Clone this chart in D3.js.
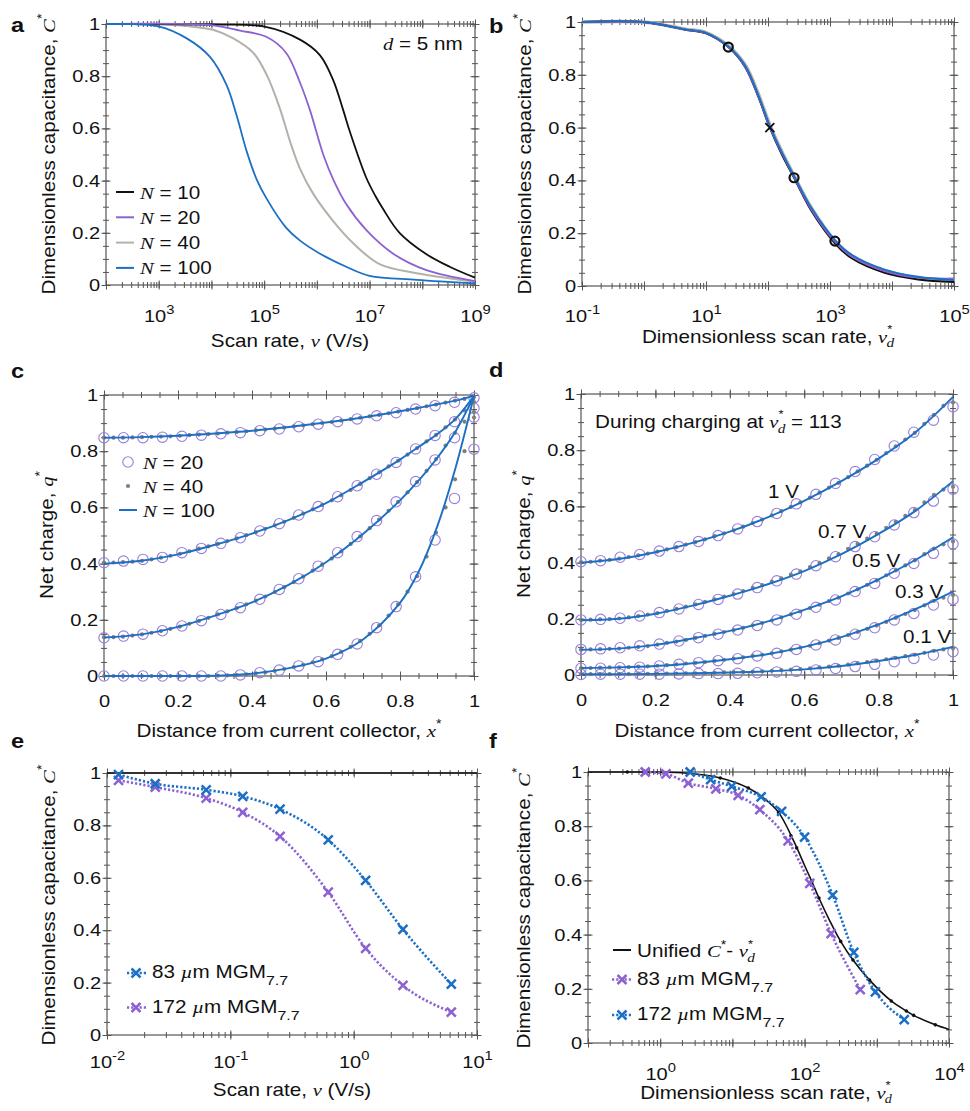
<!DOCTYPE html>
<html>
<head>
<meta charset="utf-8">
<script src="https://cdn.jsdelivr.net/npm/d3@7"></script>
<style>
    body { margin: 0; background: #fff; }
    svg { display: block; font-family: "Liberation Sans", Arial, sans-serif; }
    .tk line { stroke: #555; stroke-width: 1; }
    .lab text { font-size: 17px; fill: #111; font-family: "Liberation Sans", Arial, sans-serif; }
</style>
</head>
<body>
<svg id="fig" width="970" height="1111"></svg>
<script>
'use strict';

// ---------- panel a: capacitance vs scan rate, d = 5 nm ----------
const aRateN10 = [1e2, 1e4, 1.02e5, 4.8e5, 1.15e6, 2.04e6, 3.16e6, 4.27e6, 8.7e6, 1.3e7, 1.82e7, 3.7e7, 1.2e8, 3.3e8, 1e9];
const aCapN10 = [1, 0.998, 0.99, 0.94, 0.88, 0.785, 0.67, 0.585, 0.41, 0.34, 0.29, 0.20, 0.118, 0.07, 0.028];
const aRateN20 = [1e2, 1.07e4, 3.5e4, 1.12e5, 2.6e5, 4.8e5, 7.4e5, 1.32e6, 2.04e6, 3.6e6, 8.7e6, 2.8e7, 1.2e8, 1e9];
const aCapN20 = [1, 0.995, 0.975, 0.95, 0.89, 0.775, 0.67, 0.50, 0.405, 0.31, 0.21, 0.12, 0.057, 0.015];
const aRateN40 = [1e2, 1.02e3, 3.4e3, 1.07e4, 2.6e4, 6.2e4, 1.12e5, 2.0e5, 3.1e5, 4.8e5, 8.5e5, 2.04e6, 4.9e6, 1.55e7, 7.8e7, 1e9];
const aCapN40 = [1, 1, 0.992, 0.978, 0.945, 0.89, 0.805, 0.675, 0.55, 0.445, 0.35, 0.245, 0.16, 0.08, 0.045, 0.013];
const aRateN100 = [1e2, 1.02e3, 3.4e3, 9.3e3, 1.95e4, 3.0e4, 4.7e4, 7.2e4, 1.12e5, 2.6e5, 4.8e5, 1.15e6, 3.6e6, 1e7, 7.8e7, 1e9];
const aCapN100 = [1, 0.99, 0.945, 0.875, 0.765, 0.65, 0.51, 0.405, 0.33, 0.22, 0.17, 0.12, 0.07, 0.035, 0.02, 0.006];
const aLegend = ['10', '20', '40', '100'];
const aXLabels = [1e3, 1e5, 1e7, 1e9];

// ---------- panel b: unified curve vs dimensionless scan rate ----------
const bRate = [0.1, 1.05, 4.6, 9.8, 22.9, 42.7, 69, 107, 166, 263, 501, 1200, 2240, 7600, 26300, 1e5];
const bCapN10 = [1, 0.999, 0.971, 0.958, 0.905, 0.83, 0.72, 0.60, 0.50, 0.41, 0.285, 0.162, 0.105, 0.05, 0.025, 0.015];
const bCapN20 = [1, 0.999, 0.972, 0.959, 0.906, 0.832, 0.722, 0.603, 0.505, 0.413, 0.29, 0.168, 0.112, 0.057, 0.032, 0.028];
const bCapN40 = [1, 0.999, 0.973, 0.961, 0.91, 0.838, 0.73, 0.61, 0.51, 0.418, 0.296, 0.172, 0.115, 0.058, 0.03, 0.02];
const bCapN100 = [1, 0.999, 0.972, 0.96, 0.907, 0.835, 0.726, 0.606, 0.508, 0.417, 0.296, 0.174, 0.118, 0.062, 0.035, 0.022];
const bCircleRate = [22.9, 263, 1200];
const bCircleCap = [0.905, 0.41, 0.17];
const bCrossRate = [107];
const bCrossCap = [0.60];
const bXLabels = [1e-1, 1e1, 1e3, 1e5];

// ---------- panel c: net charge profiles for N = 20 / 40 / 100 ----------
const cNodes20 = d3.range(20).map(i => i / 19);
const cNodes40 = d3.range(40).map(i => i / 39);
const cLineX = [0, 0.1, 0.2, 0.3, 0.4, 0.5, 0.6, 0.7, 0.8, 0.85, 0.9, 0.95, 1];
const cLine1 = [0.848, 0.85, 0.855, 0.863, 0.873, 0.886, 0.902, 0.92, 0.942, 0.954, 0.967, 0.98, 0.997];
const cLine2 = [0.40, 0.41, 0.433, 0.467, 0.507, 0.556, 0.615, 0.69, 0.77, 0.815, 0.86, 0.915, 0.997];
const cLine3 = [0.137, 0.148, 0.175, 0.215, 0.262, 0.325, 0.405, 0.505, 0.625, 0.695, 0.775, 0.87, 0.997];
const cLine4 = [0, 0, 0, 0.001, 0.008, 0.028, 0.062, 0.13, 0.26, 0.37, 0.53, 0.74, 0.997];
const cN20q1 = [0.848, 0.848, 0.848, 0.85, 0.853, 0.857, 0.862, 0.866, 0.873, 0.879, 0.887, 0.896, 0.905, 0.915, 0.926, 0.937, 0.95, 0.962, 0.974, 0.99];
const cN20q2 = [0.403, 0.409, 0.415, 0.422, 0.439, 0.454, 0.472, 0.492, 0.516, 0.542, 0.573, 0.603, 0.638, 0.677, 0.718, 0.760, 0.808, 0.856, 0.905, 0.953];
const cN20q3 = [0.136, 0.142, 0.149, 0.161, 0.178, 0.197, 0.219, 0.243, 0.273, 0.308, 0.346, 0.391, 0.439, 0.496, 0.553, 0.620, 0.692, 0.769, 0.848, 0.921];
const cN20q4 = [0, 0, 0, 0, 0, 0, 0, 0.004, 0.012, 0.021, 0.036, 0.051, 0.077, 0.114, 0.172, 0.247, 0.353, 0.484, 0.632, 0.807];
const cN40q1 = [.848, .848, .848, .849, .850, .851, .852, .853, .855, .857, .859, .861, .863, .866, .868, .871, .874, .877, .880, .884,
                .888, .892, .896, .900, .904, .909, .914, .919, .924, .929, .935, .941, .947, .953, .960, .966, .973, .980, .986, .993];
const cN40q2 = [.404, .404, .405, .407, .410, .415, .421, .428, .435, .444, .453, .461, .470, .480, .490, .501, .512, .524, .536, .549,
                .563, .578, .593, .609, .625, .643, .662, .683, .704, .725, .746, .766, .788, .811, .835, .858, .885, .913, .945, .975];
const cN40q3 = [.138, .138, .140, .144, .148, .154, .160, .168, .176, .186, .196, .207, .219, .230, .242, .255, .268, .283, .299, .316,
                .334, .354, .375, .396, .418, .443, .470, .497, .526, .557, .588, .620, .654, .690, .730, .772, .820, .865, .905, .940];
const cN40q4 = [0, 0, 0, 0, 0, 0, 0, 0, 0, 0, 0, 0, .001, .002, .003, .006, .009, .013, .018, .025,
                .032, .040, .049, .059, .071, .086, .104, .125, .150, .180, .215, .255, .300, .355, .425, .510, .600, .700, .800, .920];
const cLegend = ['20', '40', '100'];

// ---------- panel d: profiles during charging at nu*_d = 113 ----------
const dLineX = [0, 0.1, 0.2, 0.3, 0.4, 0.5, 0.6, 0.7, 0.8, 0.9, 1];
const dLine1V = [0.40, 0.413, 0.437, 0.47, 0.51, 0.56, 0.62, 0.69, 0.77, 0.865, 0.99];
const dLine07V = [0.195, 0.200, 0.218, 0.247, 0.282, 0.322, 0.370, 0.43, 0.502, 0.585, 0.69];
const dLine05V = [0.09, 0.094, 0.107, 0.13, 0.157, 0.19, 0.232, 0.28, 0.34, 0.41, 0.49];
const dLine03V = [0.025, 0.027, 0.032, 0.042, 0.056, 0.074, 0.10, 0.135, 0.18, 0.235, 0.297];
const dLine01V = [0.003, 0.003, 0.004, 0.006, 0.009, 0.013, 0.02, 0.032, 0.05, 0.072, 0.10];
const dN20q1V = [.403, .407, .419, .429, .441, .457, .475, .496, .520, .546, .575, .609, .643, .682, .724, .767, .815, .864, .907, .955];
const dN20q07V = [.196, .198, .202, .210, .222, .235, .251, .269, .288, .311, .335, .359, .389, .421, .457, .492, .534, .578, .619, .661];
const dN20q05V = [.091, .093, .097, .104, .110, .121, .133, .145, .160, .176, .196, .216, .241, .267, .297, .326, .362, .397, .433, .466];
const dN20q03V = [.024, .024, .026, .028, .032, .038, .044, .051, .058, .068, .077, .091, .107, .125, .145, .168, .196, .219, .249, .269];
const dN20q01V = [.002, .003, .003, .003, .003, .004, .005, .005, .006, .008, .011, .013, .018, .023, .030, .038, .047, .059, .071, .083];
const dN40q1V = [.402, .403, .407, .410, .414, .420, .426, .432, .439, .447, .455, .464, .473, .483, .494, .504, .515, .528, .541, .553,
                 .568, .583, .598, .614, .631, .649, .667, .684, .704, .725, .745, .766, .790, .814, .838, .862, .894, .926, .958, .970];
const dN40q07V = [.196, .197, .198, .199, .201, .205, .210, .215, .220, .228, .235, .243, .251, .260, .269, .279, .288, .299, .310, .320,
                  .332, .344, .357, .369, .384, .399, .415, .430, .449, .467, .485, .503, .524, .545, .566, .587, .614, .641, .660, .670];
const dN40q05V = [.090, .091, .092, .093, .094, .097, .100, .103, .108, .114, .119, .125, .132, .139, .146, .153, .160, .168, .177, .185,
                  .194, .205, .216, .226, .238, .250, .263, .275, .290, .305, .321, .336, .355, .372, .390, .408, .430, .450, .465, .475];
const dN40q03V = [.025, .025, .026, .027, .027, .028, .030, .031, .033, .035, .038, .041, .043, .046, .050, .054, .058, .063, .068, .072,
                  .077, .084, .090, .097, .104, .113, .122, .132, .142, .153, .164, .176, .189, .203, .217, .231, .248, .264, .275, .285];
const dN40q01V = [.003, .003, .003, .003, .003, .003, .004, .004, .004, .005, .005, .006, .006, .007, .008, .009, .010, .011, .012, .013,
                  .015, .017, .019, .021, .024, .027, .030, .033, .037, .042, .046, .051, .056, .061, .067, .072, .079, .086, .091, .095];
const dVoltLabels = ['1 V', '0.7 V', '0.5 V', '0.3 V', '0.1 V'];

// ---------- panel e: measured capacitance vs scan rate ----------
const eRate = [0.0124, 0.0246, 0.0637, 0.126, 0.253, 0.622, 1.25, 2.51, 6.19];
const eCap83 = [0.994, 0.959, 0.936, 0.911, 0.862, 0.745, 0.590, 0.403, 0.194];
const eCap172 = [0.972, 0.946, 0.904, 0.850, 0.758, 0.545, 0.331, 0.189, 0.087];
const eRefLevel = [1];
const eXLabels = [1e-2, 1e-1, 1e0, 1e1];

// ---------- panel f: measured data on the unified curve ----------
const fUniRate = [0.1, 0.35, 2, 6.8, 16.6, 28.2, 43.6, 70.8, 100, 126, 158, 224, 316, 468, 794, 1585, 2570, 3236, 6457, 1e4];
const fUniCap = [1, 1, 0.997, 0.978, 0.941, 0.90, 0.851, 0.745, 0.655, 0.596, 0.535, 0.45, 0.375, 0.306, 0.232, 0.155, 0.118, 0.102, 0.067, 0.05];
const fDotRate = [0.35, 6.8, 16.6, 43.6, 64.6, 77.6, 126, 158, 316, 468, 794, 1585, 2570, 3236, 6457];
const fDotCap = [1, 0.978, 0.941, 0.851, 0.765, 0.72, 0.596, 0.535, 0.375, 0.306, 0.232, 0.155, 0.118, 0.102, 0.067];
const f83Rate = [0.62, 1.2, 2.45, 5.9, 12, 24, 59, 118, 233, 590];
const f83Cap = [1.0, 0.993, 0.959, 0.938, 0.914, 0.861, 0.746, 0.589, 0.404, 0.197];
const f172Rate = [2.6, 5.0, 9.8, 25, 48, 100, 245, 480, 955, 2400];
const f172Cap = [1.0, 0.972, 0.947, 0.908, 0.855, 0.760, 0.546, 0.334, 0.189, 0.086];
const fXLabels = [1e0, 1e2, 1e4];

const linTicks = [0, 0.2, 0.4, 0.6, 0.8, 1];

// ---------- drawing ----------
const svg = d3.select('#fig');
const SX = 1.18; // the reference face is set wider than Liberation Sans
const AXIS = '#555';
const BLACK = '#111', PURPLE = '#8c62d2', GREY = '#b2b2aa', BLUE = '#1b6fc4', CIRC = '#9a7ddb', DOT = '#7f7f7f';
const IT = 'font-family="Liberation Serif" font-style="italic"';
const SMOOTH = d3.curveCatmullRom.alpha(0.5);

function txt(x, y, html, o = {}) {
    const g = svg.append('g')
        .attr('transform', `translate(${x},${y}) rotate(${o.rot || 0}) scale(${SX},1)`);
    g.append('text')
        .attr('text-anchor', o.anchor || 'start')
        .attr('font-size', o.size || 17.5)
        .attr('font-weight', o.bold ? 'bold' : null)
        .attr('fill', '#111')
        .html(html);
}

// box with crossing ticks on all four sides, plus tick labels on bottom / left
function frame(x, y, o) {
    const [x0, x1] = x.range(), [y0, y1] = y.range();
    const g = svg.append('g');
    const cross = (axis, pos, horiz) => {
        const a = g.append('g').attr('class', 'tk')
            .attr('transform', horiz ? `translate(0,${pos})` : `translate(${pos},0)`)
            .call(axis.tickFormat(() => '').tickSizeOuter(0));
        a.select('.domain').remove();
        a.selectAll('.tick line').each(function () {
            const l = d3.select(this);
            if (horiz) l.attr('y1', -l.attr('y2')); else l.attr('x1', -l.attr('x2'));
        });
    };
    [[d3.axisBottom, y0], [d3.axisTop, y1]].forEach(([f, p]) => {
        cross(f(x).tickValues(o.xMinor).tickSize(3), p, true);
        cross(f(x).tickValues(o.xMajor).tickSize(4.5), p, true);
    });
    [[d3.axisLeft, x0], [d3.axisRight, x1]].forEach(([f, p]) => {
        cross(f(y).tickValues(y.ticks(20)).tickSize(3), p, false);
        cross(f(y).tickValues(linTicks).tickSize(4.5), p, false);
    });
    g.append('rect')
        .attr('x', x0).attr('y', y1).attr('width', x1 - x0).attr('height', y0 - y1)
        .attr('fill', 'none').attr('stroke', AXIS).attr('stroke-width', 1.2);

    const xl = g.append('g').attr('class', 'lab').attr('transform', `translate(0,${y0})`)
        .call(d3.axisBottom(x).tickValues(o.xLabels).tickSize(0).tickPadding(o.xPad)
            .tickFormat(d => String(d)));
    xl.select('.domain').remove();
    if (o.log) {
        xl.selectAll('.tick text')
            .html(d => `10<tspan dy="-8" font-size="12.5">${Math.round(Math.log10(d))}</tspan>`);
    }
    xl.selectAll('.tick text').attr('transform', `scale(${SX},1)`);

    const yl = g.append('g').attr('class', 'lab').attr('transform', `translate(${x0},0)`)
        .call(d3.axisLeft(y).tickValues(linTicks).tickSize(0).tickPadding(5).tickFormat(d => String(d)));
    yl.select('.domain').remove();
    yl.selectAll('.tick text').attr('transform', `scale(${SX},1)`);
}

function line(x, y, xs, ys, color, width, dash, curve) {
    const pts = xs.map((v, i) => [x(v), y(ys[i])]);
    svg.append('path')
        .attr('d', d3.line().curve(curve || SMOOTH)(pts))
        .attr('fill', 'none').attr('stroke', color).attr('stroke-width', width)
        .attr('stroke-dasharray', dash || null);
}

function circles(x, y, xs, ys, r, stroke, fill, sw) {
    svg.append('g').selectAll('circle').data(d3.zip(xs, ys)).join('circle')
        .attr('cx', d => x(d[0])).attr('cy', d => y(d[1])).attr('r', r)
        .attr('fill', fill).attr('stroke', stroke).attr('stroke-width', sw || 1);
}

const CROSS = 'M-4.5,-4.5L4.5,4.5M-4.5,4.5L4.5,-4.5';
function crosses(x, y, xs, ys, color, sw) {
    svg.append('g').selectAll('path').data(d3.zip(xs, ys)).join('path')
        .attr('transform', d => `translate(${x(d[0])},${y(d[1])})`)
        .attr('d', CROSS).attr('fill', 'none').attr('stroke', color).attr('stroke-width', sw || 2.5);
}

const minorLog = x => x.ticks();
const decades = x => x.ticks().filter(v => Math.abs(Math.log10(v) - Math.round(Math.log10(v))) < 1e-9);
const capLabel = `Dimensionless capacitance, <tspan ${IT}>C</tspan><tspan dy="-9" font-size="12">*</tspan>`;
const nuLabel = `Dimensionless scan rate, <tspan ${IT}>ν</tspan><tspan dy="-10" font-size="11">*</tspan>` +
    `<tspan dx="-5" dy="14" font-size="13" ${IT}>d</tspan>`;
const xStarLabel = `Distance from current collector, <tspan ${IT}>x</tspan><tspan dy="-9" font-size="12">*</tspan>`;
const qLabel = `Net charge, <tspan ${IT}>q</tspan><tspan dy="-9" font-size="12">*</tspan>`;

// ================= a =================
const xa = d3.scaleLog().domain([1e2, 1e9]).range([106, 475]);
const ya = d3.scaleLinear().domain([0, 1]).range([285, 24]);
frame(xa, ya, { xMinor: minorLog(xa), xMajor: decades(xa), xLabels: aXLabels, xPad: 24.5, log: true });
line(xa, ya, aRateN40, aCapN40, GREY, 2);
line(xa, ya, aRateN10, aCapN10, BLACK, 1.8);
line(xa, ya, aRateN20, aCapN20, PURPLE, 1.8);
line(xa, ya, aRateN100, aCapN100, BLUE, 1.8);
[BLACK, PURPLE, GREY, BLUE].forEach((c, i) => {
    const yy = 192 + i * 25.3;
    svg.append('line').attr('x1', 116).attr('x2', 134).attr('y1', yy).attr('y2', yy)
        .attr('stroke', c).attr('stroke-width', 2);
    txt(140, yy + 6.5, `<tspan ${IT}>N</tspan> = ${aLegend[i]}`);
});
txt(383, 50, `<tspan ${IT}>d</tspan> = 5 nm`);
txt(290, 347, `Scan rate, <tspan ${IT}>ν</tspan> (V/s)`, { anchor: 'middle' });
txt(55, 154, capLabel, { anchor: 'middle', rot: -90 });
txt(11, 32, 'a', { bold: true, size: 20 });

// ================= b =================
const xb = d3.scaleLog().domain([1e-1, 1e5]).range([582, 954]);
const yb = d3.scaleLinear().domain([0, 1]).range([286, 22]);
frame(xb, yb, { xMinor: minorLog(xb), xMajor: decades(xb), xLabels: bXLabels, xPad: 23.5, log: true });
line(xb, yb, bRate, bCapN40, GREY, 3.5);
line(xb, yb, bRate, bCapN10, BLACK, 2);
line(xb, yb, bRate, bCapN20, PURPLE, 2);
line(xb, yb, bRate, bCapN100, BLUE, 1.8);
circles(xb, yb, bCircleRate, bCircleCap, 4.5, BLACK, 'none', 2.2);
crosses(xb, yb, bCrossRate, bCrossCap, BLACK, 1.8);
txt(768, 343, nuLabel, { anchor: 'middle' });
txt(531, 154, capLabel, { anchor: 'middle', rot: -90 });
txt(489, 33, 'b', { bold: true, size: 20 });

// ================= c =================
const xc = d3.scaleLinear().domain([0, 1]).range([104, 474]);
const yc = d3.scaleLinear().domain([0, 1]).range([676, 395]);
frame(xc, yc, { xMinor: xc.ticks(20), xMajor: linTicks, xLabels: linTicks, xPad: 19 });
[cN20q1, cN20q2, cN20q3, cN20q4].forEach(q => circles(xc, yc, cNodes20, q, 5.2, CIRC, 'none', 1.1));
[cN40q1, cN40q2, cN40q3, cN40q4].forEach(q => circles(xc, yc, cNodes40, q, 2.1, 'none', DOT));
[cLine1, cLine2, cLine3, cLine4].forEach(q => line(xc, yc, cLineX, q, BLUE, 1.9));
svg.append('circle').attr('cx', 128).attr('cy', 462).attr('r', 5.2)
    .attr('fill', 'none').attr('stroke', CIRC).attr('stroke-width', 1.1);
svg.append('circle').attr('cx', 128).attr('cy', 486).attr('r', 2.1).attr('fill', DOT);
svg.append('line').attr('x1', 119).attr('x2', 137).attr('y1', 510).attr('y2', 510)
    .attr('stroke', BLUE).attr('stroke-width', 2);
cLegend.forEach((n, i) => txt(143, 468.5 + i * 24, `<tspan ${IT}>N</tspan> = ${n}`));
txt(289, 737, xStarLabel, { anchor: 'middle' });
txt(53, 535, qLabel, { anchor: 'middle', rot: -90 });
txt(11, 378, 'c', { bold: true, size: 20 });

// ================= d =================
const xd = d3.scaleLinear().domain([0, 1]).range([581, 953]);
const yd = d3.scaleLinear().domain([0, 1]).range([675, 394]);
frame(xd, yd, { xMinor: xd.ticks(20), xMajor: linTicks, xLabels: linTicks, xPad: 19 });
[dN20q1V, dN20q07V, dN20q05V, dN20q03V, dN20q01V].forEach(q => circles(xd, yd, cNodes20, q, 5.2, CIRC, 'none', 1.1));
[dN40q1V, dN40q07V, dN40q05V, dN40q03V, dN40q01V].forEach(q => circles(xd, yd, cNodes40, q, 2.1, 'none', DOT));
[dLine1V, dLine07V, dLine05V, dLine03V, dLine01V].forEach(q => line(xd, yd, dLineX, q, BLUE, 1.9));
const dLabelPos = [[768, 498], [818, 538], [852, 567], [895, 598], [903, 643]];
dVoltLabels.forEach((s, i) => txt(dLabelPos[i][0], dLabelPos[i][1], s));
txt(595, 428, `During charging at <tspan ${IT}>ν</tspan><tspan dy="-10" font-size="11">*</tspan>` +
    `<tspan dx="-5" dy="15" font-size="13" ${IT}>d</tspan><tspan dy="-5"> = 113</tspan>`);
txt(767, 737, xStarLabel, { anchor: 'middle' });
txt(530, 534, qLabel, { anchor: 'middle', rot: -90 });
txt(489, 377, 'd', { bold: true, size: 20 });

// ================= e =================
const xe = d3.scaleLog().domain([1e-2, 1e1]).range([107, 477]);
const ye = d3.scaleLinear().domain([0, 1]).range([1035, 773]);
frame(xe, ye, { xMinor: minorLog(xe), xMajor: decades(xe), xLabels: eXLabels, xPad: 21, log: true });
eRefLevel.forEach(v => svg.append('line').attr('x1', xe.range()[0]).attr('x2', xe.range()[1])
    .attr('y1', ye(v)).attr('y2', ye(v)).attr('stroke', BLACK).attr('stroke-width', 1.6));
line(xe, ye, eRate, eCap172, PURPLE, 2.6, '2.2,2', d3.curveMonotoneX);
line(xe, ye, eRate, eCap83, BLUE, 2.6, '2.2,2', d3.curveMonotoneX);
crosses(xe, ye, eRate, eCap172, PURPLE);
crosses(xe, ye, eRate, eCap83, BLUE);
[[BLUE, 973, '83'], [PURPLE, 1007.5, '172']].forEach(([c, yy, s]) => {
    svg.append('line').attr('x1', 127).attr('x2', 146).attr('y1', yy).attr('y2', yy)
        .attr('stroke', c).attr('stroke-width', 2.6).attr('stroke-dasharray', '2.2,2');
    svg.append('path').attr('transform', `translate(136,${yy})`).attr('d', CROSS)
        .attr('stroke', c).attr('stroke-width', 2.5);
    txt(152, yy + 5, `${s} <tspan ${IT}>µ</tspan>m MGM<tspan dy="7" font-size="13.5">7.7</tspan>`);
});
txt(292, 1096, `Scan rate, <tspan ${IT}>ν</tspan> (V/s)`, { anchor: 'middle' });
txt(55, 905, capLabel, { anchor: 'middle', rot: -90 });
txt(11, 748, 'e', { bold: true, size: 20 });

// ================= f =================
const xf = d3.scaleLog().domain([1e-1, 1e4]).range([588, 949]);
const yf = d3.scaleLinear().domain([0, 1]).range([1043, 772]);
frame(xf, yf, { xMinor: minorLog(xf), xMajor: decades(xf), xLabels: fXLabels, xPad: 25, log: true });
line(xf, yf, fUniRate, fUniCap, BLACK, 1.6);
circles(xf, yf, fDotRate, fDotCap, 1.8, 'none', BLACK);
line(xf, yf, f83Rate, f83Cap, PURPLE, 2.6, '2.2,2', d3.curveMonotoneX);
line(xf, yf, f172Rate, f172Cap, BLUE, 2.6, '2.2,2', d3.curveMonotoneX);
crosses(xf, yf, f83Rate, f83Cap, PURPLE);
crosses(xf, yf, f172Rate, f172Cap, BLUE);
svg.append('line').attr('x1', 613).attr('x2', 631).attr('y1', 950).attr('y2', 950)
    .attr('stroke', BLACK).attr('stroke-width', 2);
txt(637, 957, `Unified <tspan ${IT}>C</tspan><tspan dy="-8" font-size="12">*</tspan><tspan dy="8">- </tspan>` +
    `<tspan ${IT}>ν</tspan><tspan dy="-9" font-size="11">*</tspan><tspan dx="-5" dy="14" font-size="13" ${IT}>d</tspan>`);
[[PURPLE, 979.5, '83'], [BLUE, 1015, '172']].forEach(([c, yy, s]) => {
    svg.append('line').attr('x1', 612).attr('x2', 632).attr('y1', yy).attr('y2', yy)
        .attr('stroke', c).attr('stroke-width', 2.6).attr('stroke-dasharray', '2.2,2');
    svg.append('path').attr('transform', `translate(622,${yy})`).attr('d', CROSS)
        .attr('stroke', c).attr('stroke-width', 2.5);
    txt(637, yy + 5, `${s} <tspan ${IT}>µ</tspan>m MGM<tspan dy="7" font-size="13.5">7.7</tspan>`);
});
txt(766, 1099, `Dimensionless scan rate, <tspan ${IT}>ν</tspan><tspan dy="-10" font-size="11">*</tspan>` +
    `<tspan dx="-5" dy="14" font-size="12" ${IT}>d</tspan>`, { anchor: 'middle' });
txt(530, 908, capLabel, { anchor: 'middle', rot: -90 });
txt(489, 748, 'f', { bold: true, size: 20 });
</script>
</body>
</html>
